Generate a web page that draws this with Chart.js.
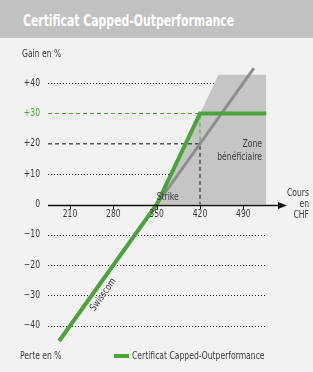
<!DOCTYPE html>
<html>
<head>
<meta charset="utf-8">
<script src="https://cdn.jsdelivr.net/npm/chart.js@4/dist/chart.umd.min.js"></script>
<style>
  html, body { margin: 0; padding: 0; background: #f2f2f2; }
  #wrap { position: relative; width: 313px; height: 372px; overflow: hidden; }
  #title {
    position: absolute; left: 0; top: 0; width: 313px; height: 38px;
    background: #c1c1c1;
  }
  #title span {
    position: absolute; left: 23px; top: 12px; display: inline-block;
    color: #fff; white-space: nowrap; transform-origin: 0 0;
    font: bold 16px 'Liberation Sans Narrow', 'DejaVu Sans Condensed', sans-serif;
    line-height: 18px;
  }
  canvas { position: absolute; left: 0; top: 0; }
</style>
</head>
<body>
<div id="wrap">
  <canvas id="payoffChart" width="313" height="372"></canvas>
  <div id="title"><span id="titleText">Certificat Capped-Outperformance</span></div>
</div>
<script>
// values
var xTicks = [210, 280, 350, 420, 490];
var yTicks = [40, 30, 20, 10, 0, -10, -20, -30, -40];
var yTickLabels = ['+40', '+30', '+20', '+10', '0', '\u221210', '\u221220', '\u221230', '\u221240'];

var certX = [192.5, 350, 420, 527];
var certY = [-45, 0, 30, 30];
var stockX = [350, 507];
var stockY = [0, 45];
var zoneX = [350, 450, 527, 527];
var zoneY = [0, 42.8, 42.8, 0];
var capLineX = [174.5, 420, 420];
var capLineY = [30, 30, 20];
var refLineX = [174.5, 420, 420];
var refLineY = [20, 20, 0];

var strike = 350;
var gridEnd = 527;

function pts(xs, ys) {
  return xs.map(function(x, i) { return { x: x, y: ys[i] }; });
}

// squeeze the title to the width of the condensed original
var t = document.getElementById('titleText');
t.style.transform = 'scaleX(' + (211 / t.offsetWidth) + ')';

var green = '#4ca33b';
var textColor = '#3a3a3a';
var font = "'Liberation Sans Narrow', 'DejaVu Sans Condensed', sans-serif";
var squeeze = 0.85;

function label(c, str, x, y) {
  c.save();
  c.translate(x, y);
  c.scale(squeeze, 1);
  c.fillText(str, 0, 0);
  c.restore();
}

var decorations = {
  id: 'decorations',
  beforeDatasetsDraw: function(chart) {
    var c = chart.ctx, xs = chart.scales.x, ys = chart.scales.y;
    c.save();
    c.strokeStyle = '#222';
    c.lineWidth = 1;
    c.setLineDash([1, 2]);
    yTicks.forEach(function(v) {
      if (v === 0 || v === 20 || v === 30) return;
      var y = Math.round(ys.getPixelForValue(v)) + 0.5;
      c.beginPath();
      c.moveTo(xs.getPixelForValue(174.5), y);
      c.lineTo(xs.getPixelForValue(gridEnd), y);
      c.stroke();
    });
    c.restore();
  },
  afterDatasetsDraw: function(chart) {
    var c = chart.ctx, xs = chart.scales.x, ys = chart.scales.y;
    var y0 = Math.round(ys.getPixelForValue(0)) + 0.5;
    c.save();
    // x axis with arrow
    c.strokeStyle = '#111';
    c.fillStyle = '#111';
    c.lineWidth = 1.3;
    c.beginPath();
    c.moveTo(chart.chartArea.left, y0);
    c.lineTo(chart.chartArea.right - 6, y0);
    c.stroke();
    c.beginPath();
    c.moveTo(chart.chartArea.right, y0);
    c.lineTo(chart.chartArea.right - 9, y0 - 3.5);
    c.lineTo(chart.chartArea.right - 9, y0 + 3.5);
    c.closePath();
    c.fill();
    c.lineWidth = 1;
    xTicks.forEach(function(v) {
      var x = Math.round(xs.getPixelForValue(v)) + 0.5;
      c.beginPath();
      c.moveTo(x, y0);
      c.lineTo(x, y0 + 4);
      c.stroke();
    });
    c.restore();
  },
  afterDraw: function(chart) {
    var c = chart.ctx, xs = chart.scales.x, ys = chart.scales.y;
    c.save();
    c.font = '10px ' + font;
    c.fillStyle = textColor;
    c.textBaseline = 'middle';
    // y tick labels
    c.textAlign = 'right';
    yTicks.forEach(function(v, i) {
      c.fillStyle = v === 30 ? green : textColor;
      label(c, yTickLabels[i], 40, ys.getPixelForValue(v));
    });
    // x tick labels
    c.fillStyle = textColor;
    c.textAlign = 'center';
    xTicks.forEach(function(v) {
      label(c, String(v), xs.getPixelForValue(v), ys.getPixelForValue(0) + 10);
    });
    // axis titles
    c.textAlign = 'left';
    label(c, 'Gain en %', 22, 54);
    label(c, 'Perte en %', 20, 356);
    c.textAlign = 'right';
    label(c, 'Cours', 309, 193);
    label(c, 'en', 309, 204);
    label(c, 'CHF', 309, 215);
    // annotations
    label(c, 'Zone', 262, 144);
    label(c, 'b\u00e9n\u00e9ficiaire', 262, 157);
    c.textAlign = 'left';
    label(c, 'Strike', xs.getPixelForValue(strike), 197);
    // rotated Swisscom label along the stock line
    var ax = xs.getPixelForValue(stockX[0]), ay = ys.getPixelForValue(stockY[0]);
    var bx = xs.getPixelForValue(stockX[1]), by = ys.getPixelForValue(stockY[1]);
    var ang = Math.atan2(by - ay, bx - ax);
    var px = xs.getPixelForValue(252), py = ys.getPixelForValue((252 - strike) / 3.5);
    c.translate(px, py);
    c.rotate(ang);
    c.textAlign = 'center';
    c.textBaseline = 'top';
    label(c, 'Swisscom', 0, 4);
    c.restore();
    // legend
    c.save();
    c.fillStyle = green;
    c.fillRect(114, 354, 15, 4);
    c.fillStyle = textColor;
    c.font = '10px ' + font;
    c.textBaseline = 'middle';
    c.textAlign = 'left';
    label(c, 'Certificat Capped-Outperformance', 132, 356);
    c.restore();
  }
};

var ctx = document.getElementById('payoffChart').getContext('2d');

var data = {
  datasets: [
    {
      label: 'Certificat Capped-Outperformance',
      data: pts(certX, certY),
      borderColor: green,
      borderWidth: 4,
      pointRadius: 0,
      order: 0
    },
    {
      label: 'Swisscom',
      data: pts(stockX, stockY),
      borderColor: '#8d8d8d',
      borderWidth: 3,
      pointRadius: 0,
      order: 1
    },
    {
      label: 'cap',
      data: pts(capLineX, capLineY),
      borderColor: green,
      borderWidth: 1,
      borderDash: [4, 3],
      pointRadius: 0,
      order: 2
    },
    {
      label: 'ref',
      data: pts(refLineX, refLineY),
      borderColor: '#111',
      borderWidth: 1,
      borderDash: [4, 3],
      pointRadius: 0,
      order: 2
    },
    {
      label: 'Zone b\u00e9n\u00e9ficiaire',
      data: pts(zoneX, zoneY),
      borderWidth: 0,
      borderColor: 'rgba(0,0,0,0)',
      backgroundColor: '#c5c5c5',
      fill: 'origin',
      pointRadius: 0,
      order: 3
    }
  ]
};

var options = {
  responsive: false,
  animation: false,
  devicePixelRatio: 1,
  layout: { padding: { left: 48, right: 26, top: 65, bottom: 28 } },
  scales: {
    x: { type: 'linear', min: 174.5, max: 560.5, display: false },
    y: { type: 'linear', min: -46, max: 46, display: false }
  },
  plugins: {
    legend: { display: false },
    tooltip: { enabled: false }
  }
};

var payoffChart = new Chart(ctx, {
  type: 'line',
  data: data,
  options: options,
  plugins: [decorations]
});
</script>
</body>
</html>
